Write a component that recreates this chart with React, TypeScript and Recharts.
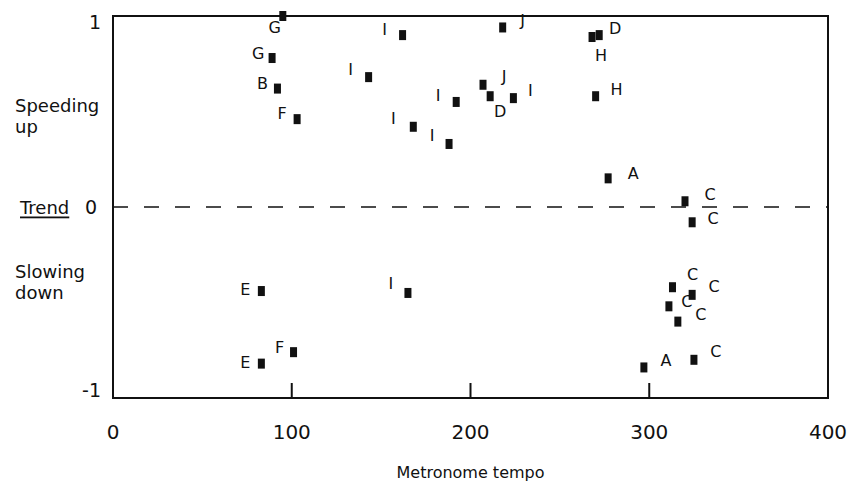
import {
  ScatterChart,
  Scatter,
  XAxis,
  YAxis,
  ReferenceLine,
  ReferenceArea,
} from "recharts";

// metronome tempo (x) vs trend (y), one letter per performer
const tempos = [
  95, 89, 92, 103, 162, 218, 272, 268, 143, 207, 211, 224, 192, 270, 168,
  188, 277, 320, 324, 313, 324, 311, 316, 297, 325, 83, 83, 101, 165,
];
const trends = [
  1.0, 0.78, 0.62, 0.46, 0.9, 0.94, 0.9, 0.89, 0.68, 0.64, 0.58, 0.57, 0.55,
  0.58, 0.42, 0.33, 0.15, 0.03, -0.08, -0.42, -0.46, -0.52, -0.6, -0.84,
  -0.8, -0.44, -0.82, -0.76, -0.45,
];
const letters = [
  "G", "G", "B", "F", "I", "J", "D", "H", "I", "J", "D", "I", "I", "H", "I",
  "I", "A", "C", "C", "C", "C", "C", "C", "A", "C", "E", "E", "F", "I",
];

const xTicks = [0, 100, 200, 300, 400];
const yTicks = [1, 0.5, 0, -0.37, -1];
const yTickLabels: Record<string, string[]> = {
  "1": ["1"],
  "0.5": ["Speeding", "up"],
  "0": ["Trend", "0"],
  "-0.37": ["Slowing", "down"],
  "-1": ["-1"],
};

// where each letter sits relative to its square, in px
const labelOffsets: [number, number][] = [
  [-8, 11], [-14, -5], [-15, -5], [-15, -6], [-18, -6], [20, -7], [16, -7],
  [9, 18], [-18, -8], [21, -8], [10, 15], [17, -8], [-18, -6], [21, -7],
  [-20, -8], [-17, -8], [25, -5], [25, -7], [21, -4], [20, -13], [22, -8],
  [18, -5], [23, -7], [22, -7], [22, -8], [-16, -2], [-16, -1], [-14, -5],
  [-17, -9],
];

const points = tempos.map((t, i) => ({
  x: t,
  y: trends[i],
  letter: letters[i],
  idx: i,
}));

const FONT = "'DejaVu Sans', sans-serif";

const Marker = (props: any) => {
  const { cx, cy, payload } = props;
  const [dx, dy] = labelOffsets[payload.idx];
  return (
    <g>
      <rect x={cx - 3.5} y={cy - 5} width={7} height={10} fill="#111" />
      <text
        x={cx + dx}
        y={cy + dy}
        textAnchor="middle"
        dominantBaseline="central"
        fontFamily={FONT}
        fontSize={16}
        fill="#111"
      >
        {payload.letter}
      </text>
    </g>
  );
};

const XTick = (props: any) => {
  const { x, y, payload } = props;
  const v = payload.value;
  return (
    <g>
      {v > 0 && v < 400 && (
        <line x1={x} x2={x} y1={y} y2={y - 15} stroke="#111" strokeWidth={2} />
      )}
      <text
        x={x}
        y={y + 34}
        textAnchor="middle"
        dominantBaseline="central"
        fontFamily={FONT}
        fontSize={20}
        fill="#111"
      >
        {v}
      </text>
    </g>
  );
};

const YTick = (props: any) => {
  const { x, y, payload } = props;
  const v = payload.value;
  const lines = yTickLabels[String(v)] || [];
  if (v === 0) {
    return (
      <g fontFamily={FONT} fill="#111">
        <text x={20} y={y} dominantBaseline="central" fontSize={18} textDecoration="underline">
          {lines[0]}
        </text>
        <text x={x - 4} y={y} textAnchor="end" dominantBaseline="central" fontSize={19}>
          {lines[1]}
        </text>
      </g>
    );
  }
  if (lines.length === 1) {
    return (
      <text
        x={x}
        y={y + (v > 0 ? 6 : -8)}
        textAnchor="end"
        dominantBaseline="central"
        fontFamily={FONT}
        fontSize={19}
        fill="#111"
      >
        {lines[0]}
      </text>
    );
  }
  return (
    <text x={15} y={y} fontFamily={FONT} fontSize={18} fill="#111">
      {lines.map((l, i) => (
        <tspan key={i} x={15} dy={i === 0 ? 0 : 21}>
          {l}
        </tspan>
      ))}
    </text>
  );
};

export default function App() {
  return (
    <div style={{ position: "absolute", left: 0, top: 0, background: "#fff" }}>
      <ScatterChart
        width={850}
        height={484}
        margin={{ top: 16, right: 22, bottom: 0, left: 0 }}
      >
        <XAxis
          type="number"
          dataKey="x"
          domain={[0, 400]}
          ticks={xTicks}
          tick={<XTick />}
          tickLine={false}
          tickSize={0}
          tickMargin={0}
          height={86}
          stroke="#111"
          strokeWidth={2}
          label={{
            value: "Metronome tempo",
            position: "insideBottom",
            offset: 6,
            fontFamily: FONT,
            fontSize: 16,
            fill: "#111",
          }}
        />
        <YAxis
          type="number"
          dataKey="y"
          domain={[-1, 1]}
          ticks={yTicks}
          tick={<YTick />}
          tickLine={false}
          tickSize={0}
          tickMargin={12}
          width={113}
          interval={0}
          stroke="#111"
          strokeWidth={2}
        />
        <ReferenceArea
          x1={0}
          x2={400}
          y1={-1}
          y2={1}
          fill="none"
          fillOpacity={0}
          stroke="#111"
          strokeWidth={2}
          ifOverflow="visible"
        />
        <ReferenceLine y={0} stroke="#111" strokeWidth={1.5} strokeDasharray="15 16" />
        <Scatter
          data={points}
          shape={<Marker />}
          isAnimationActive={false}
        />
      </ScatterChart>
    </div>
  );
}
